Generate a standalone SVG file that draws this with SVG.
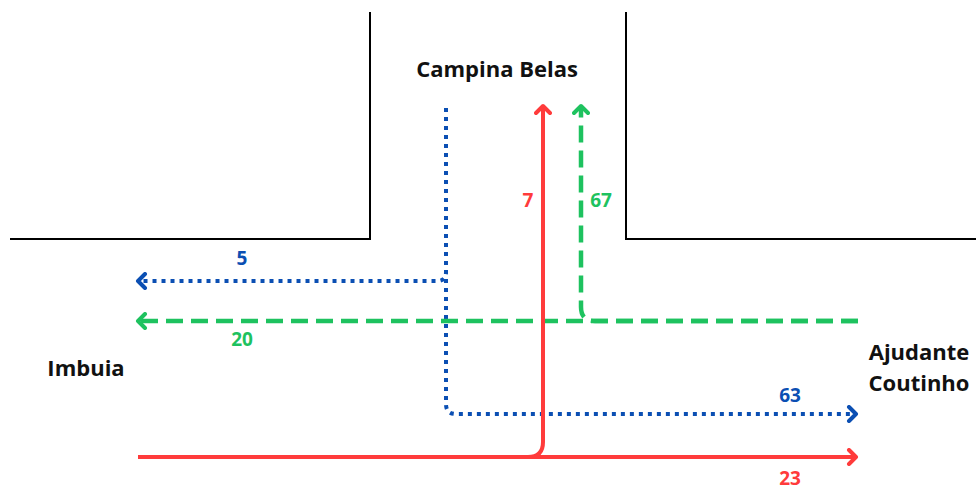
<svg xmlns="http://www.w3.org/2000/svg" width="976" height="491" viewBox="0 0 976 491">
  <style>
    .wall { fill: none; stroke: #000; stroke-width: 2; }
    .place { font-family: "Open Sans", "DejaVu Sans", sans-serif; font-weight: 700; font-size: 22px; fill: #111; text-anchor: middle; }
    .count { font-family: "Open Sans", "DejaVu Sans", sans-serif; font-weight: 700; font-size: 19px; text-anchor: middle; }
    .flow { fill: none; stroke-width: 4; }
    .blue { stroke: #0B4FB3; stroke-dasharray: 4 5; }
    .green { stroke: #1EC25F; stroke-width: 4.5; stroke-dasharray: 17 8; }
    .red { stroke: #FF3B3B; stroke-linejoin: round; }
  </style>
  <defs>
    <marker id="head-blue" markerUnits="userSpaceOnUse" viewBox="0 0 14 18" refX="10" refY="9" markerWidth="14" markerHeight="18" orient="auto-start-reverse">
      <path d="M3,2 L10,9 L3,16" fill="none" stroke="#0B4FB3" stroke-width="4" stroke-linecap="round" stroke-linejoin="round"/>
    </marker>
    <marker id="head-green" markerUnits="userSpaceOnUse" viewBox="0 0 14 18" refX="10" refY="9" markerWidth="14" markerHeight="18" orient="auto-start-reverse">
      <path d="M3,2 L10,9 L3,16" fill="none" stroke="#1EC25F" stroke-width="4" stroke-linecap="round" stroke-linejoin="round"/>
    </marker>
    <marker id="head-red" markerUnits="userSpaceOnUse" viewBox="0 0 14 18" refX="10" refY="9" markerWidth="14" markerHeight="18" orient="auto-start-reverse">
      <path d="M3,2 L10,9 L3,16" fill="none" stroke="#FF3B3B" stroke-width="4" stroke-linecap="round" stroke-linejoin="round"/>
    </marker>
  </defs>

  <rect width="976" height="491" fill="#fff"/>

  <!-- street corners -->
  <g id="walls">
    <path class="wall" d="M10,239 H370 V12"/>
    <path class="wall" d="M626,12 V239 H976"/>
  </g>

  <!-- approaches -->
  <g id="campina-belas">
    <text class="place" x="497" y="77">Campina Belas</text>
  </g>
  <g id="imbuia">
    <text class="place" x="86" y="376">Imbuia</text>
  </g>
  <g id="ajudante-coutinho">
    <text class="place" x="919" y="360">Ajudante</text>
    <text class="place" x="919" y="391">Coutinho</text>
  </g>

  <!-- movements -->
  <g id="connectors">
    <path class="flow blue" d="M446,108 V272 Q446,281 437,281 H138" marker-end="url(#head-blue)"/>
    <path class="flow blue" d="M446,108 V404 Q446,414 456,414 H856" marker-end="url(#head-blue)"/>
    <path class="flow green" d="M858,321 H138" marker-end="url(#head-green)"/>
    <path class="flow green" d="M858,321 H595 Q581,321 581,307 V106" marker-end="url(#head-green)"/>
    <path class="flow red" d="M138,457 H856" marker-end="url(#head-red)"/>
    <path class="flow red" d="M138,457 H528 Q543,457 543,442 V106" marker-end="url(#head-red)"/>
  </g>

  <!-- counts -->
  <g id="counts">
    <text class="count" x="242" y="265" fill="#0B4FB3">5</text>
    <text class="count" x="242" y="346" fill="#1EC25F">20</text>
    <text class="count" x="528" y="207" fill="#FF3B3B">7</text>
    <text class="count" x="601" y="207" fill="#1EC25F">67</text>
    <text class="count" x="790" y="402" fill="#0B4FB3">63</text>
    <text class="count" x="790" y="485" fill="#FF3B3B">23</text>
  </g>
</svg>
